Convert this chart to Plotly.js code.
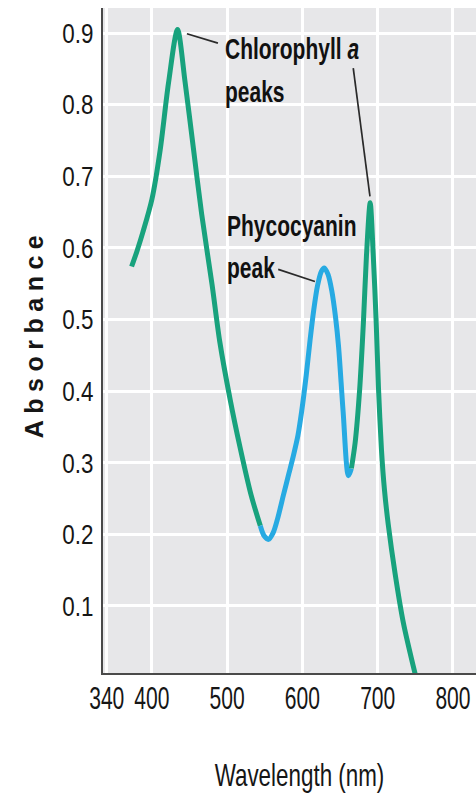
<!DOCTYPE html>
<html>
<head>
<meta charset="utf-8">
<script src="https://cdn.plot.ly/plotly-3.0.1.min.js"></script>
<style>
  html, body { margin: 0; padding: 0; background: #fff; }
  #chart { width: 476px; height: 800px; }
  .ytitle { letter-spacing: 6.5px; }
</style>
</head>
<body>
<div id="chart"></div>
<script>
// Wavelength (nm) and absorbance
const greenLeftNm  = [373, 380, 388, 400, 411, 422, 434, 444, 455, 466, 480, 490, 504, 517, 532, 544];
const greenLeftAbs = [0.574, 0.595, 0.622, 0.668, 0.737, 0.830, 0.905, 0.832, 0.740, 0.648, 0.548, 0.470, 0.388, 0.322, 0.254, 0.212];

const blueNm  = [544, 549, 555, 561, 567, 575, 582, 588, 594, 599, 605, 610, 615, 620, 625, 629, 634, 639, 644, 648, 654, 661, 665];
const blueAbs = [0.212, 0.198, 0.193, 0.202, 0.222, 0.256, 0.285, 0.310, 0.338, 0.372, 0.422, 0.470, 0.513, 0.547, 0.567, 0.572, 0.563, 0.540, 0.503, 0.462, 0.372, 0.282, 0.292];

const greenRightNm  = [665, 670, 676, 681, 685, 690, 694, 698, 701, 705, 709, 714, 723, 734, 750];
const greenRightAbs = [0.292, 0.328, 0.402, 0.496, 0.588, 0.663, 0.592, 0.496, 0.405, 0.318, 0.262, 0.214, 0.146, 0.077, 0.004];

const xTickVals = [340, 400, 500, 600, 700, 800];
const xTickText = ['340', '400', '500', '600', '700', '800'];
const yTickVals = [0.1, 0.2, 0.3, 0.4, 0.5, 0.6, 0.7, 0.8, 0.9];
const yTickText = ['0.1', '0.2', '0.3', '0.4', '0.5', '0.6', '0.7', '0.8', '0.9'];

const labelChl1 = 'Chlorophyll <i>a</i>';
const labelChl2 = 'peaks';
const labelPhy1 = 'Phycocyanin';
const labelPhy2 = 'peak';
const xTitle = 'Wavelength (nm)';
const yTitle = 'Absorbance';

const GREEN = '#18a27d';
const BLUE = '#27aae2';
const SANS = '"Liberation Sans Narrow", "Arial Narrow", "Liberation Sans", Arial, sans-serif';

const lineStyle = (c) => ({ color: c, width: 5, shape: 'spline', smoothing: 0.8 });

const traces = [
  { x: greenLeftNm, y: greenLeftAbs, mode: 'lines', line: lineStyle(GREEN), hoverinfo: 'skip' },
  { x: blueNm, y: blueAbs, mode: 'lines', line: lineStyle(BLUE), hoverinfo: 'skip' },
  { x: greenRightNm, y: greenRightAbs, mode: 'lines', line: lineStyle(GREEN), hoverinfo: 'skip' }
];

const annFont = { family: SANS, size: 30, color: '#111', weight: 700 };
const ann = (text, x, y) => ({ text, x, y, xref: 'x', yref: 'y', xanchor: 'left', yanchor: 'middle',
  align: 'left', showarrow: false, font: annFont });

const leader = (x0, y0, x1, y1) => ({ type: 'line', xref: 'x', yref: 'y', x0, y0, x1, y1,
  line: { color: '#2a2a2a', width: 1.7 } });

const layout = {
  width: 476, height: 800,
  margin: { l: 103, r: 0, t: 8, b: 127 },
  paper_bgcolor: '#ffffff',
  plot_bgcolor: '#e7e7e9',
  showlegend: false,
  xaxis: {
    range: [335, 830.6], fixedrange: true,
    tickmode: 'array', tickvals: xTickVals, ticktext: xTickText, tickangle: 0,
    ticklabeloverflow: 'allow',
    showgrid: true, gridcolor: '#ffffff', gridwidth: 3,
    zeroline: false, showline: true, linecolor: '#4a4a4a', linewidth: 2,
    ticks: '', ticklabelstandoff: -3,
    tickfont: { family: SANS, size: 31, color: '#161616' },
    title: { text: xTitle, font: { family: SANS, size: 32, color: '#161616' }, standoff: 48 }
  },
  yaxis: {
    range: [0.0064, 0.935], fixedrange: true,
    tickmode: 'array', tickvals: yTickVals, ticktext: yTickText,
    showgrid: true, gridcolor: '#ffffff', gridwidth: 3,
    zeroline: false, showline: true, linecolor: '#4a4a4a', linewidth: 2,
    ticks: '', ticklabelstandoff: 2,
    tickfont: { family: SANS, size: 28, color: '#161616' },
    title: { text: yTitle, font: { family: '"Liberation Sans", Arial, sans-serif', size: 25, color: '#161616', weight: 700 }, standoff: 4 }
  },
  annotations: [
    ann(labelChl1, 494, 0.878),
    ann(labelChl2, 494, 0.819),
    ann(labelPhy1, 497, 0.631),
    ann(labelPhy2, 497, 0.572)
  ],
  shapes: [
    leader(446.5, 0.899, 487.7, 0.886),
    leader(667.5, 0.851, 689.7, 0.672),
    leader(567.8, 0.570, 616.6, 0.553)
  ]
};

// Horizontal condensing of text (the reference uses a condensed typeface);
// dx nudges the text along its own baseline direction.
function condense(selector, s, forceAnchor, dx) {
  document.querySelectorAll(selector).forEach(t => {
    const b = t.getBBox();
    const ta = forceAnchor || t.getAttribute('text-anchor') || 'start';
    let ax = b.x + b.width / 2;
    if (ta === 'start') ax = b.x;
    else if (ta === 'end') ax = b.x + b.width;
    const prev = t.getAttribute('transform') || '';
    t.setAttribute('transform', prev + ' translate(' + (ax + (dx || 0)) + ',0) scale(' + s + ',1) translate(' + (-ax) + ',0)');
  });
}

Plotly.newPlot('chart', traces, layout, { displayModeBar: false, staticPlot: true }).then(() => {
  condense('.xtick text', 0.68);
  condense('.ytick text', 0.80);
  condense('.xtitle', 0.70, null, 10);
  condense('.ytitle', 1, null, 7);
  condense('.annotation-text', 0.70, 'start');
});
</script>
</body>
</html>
